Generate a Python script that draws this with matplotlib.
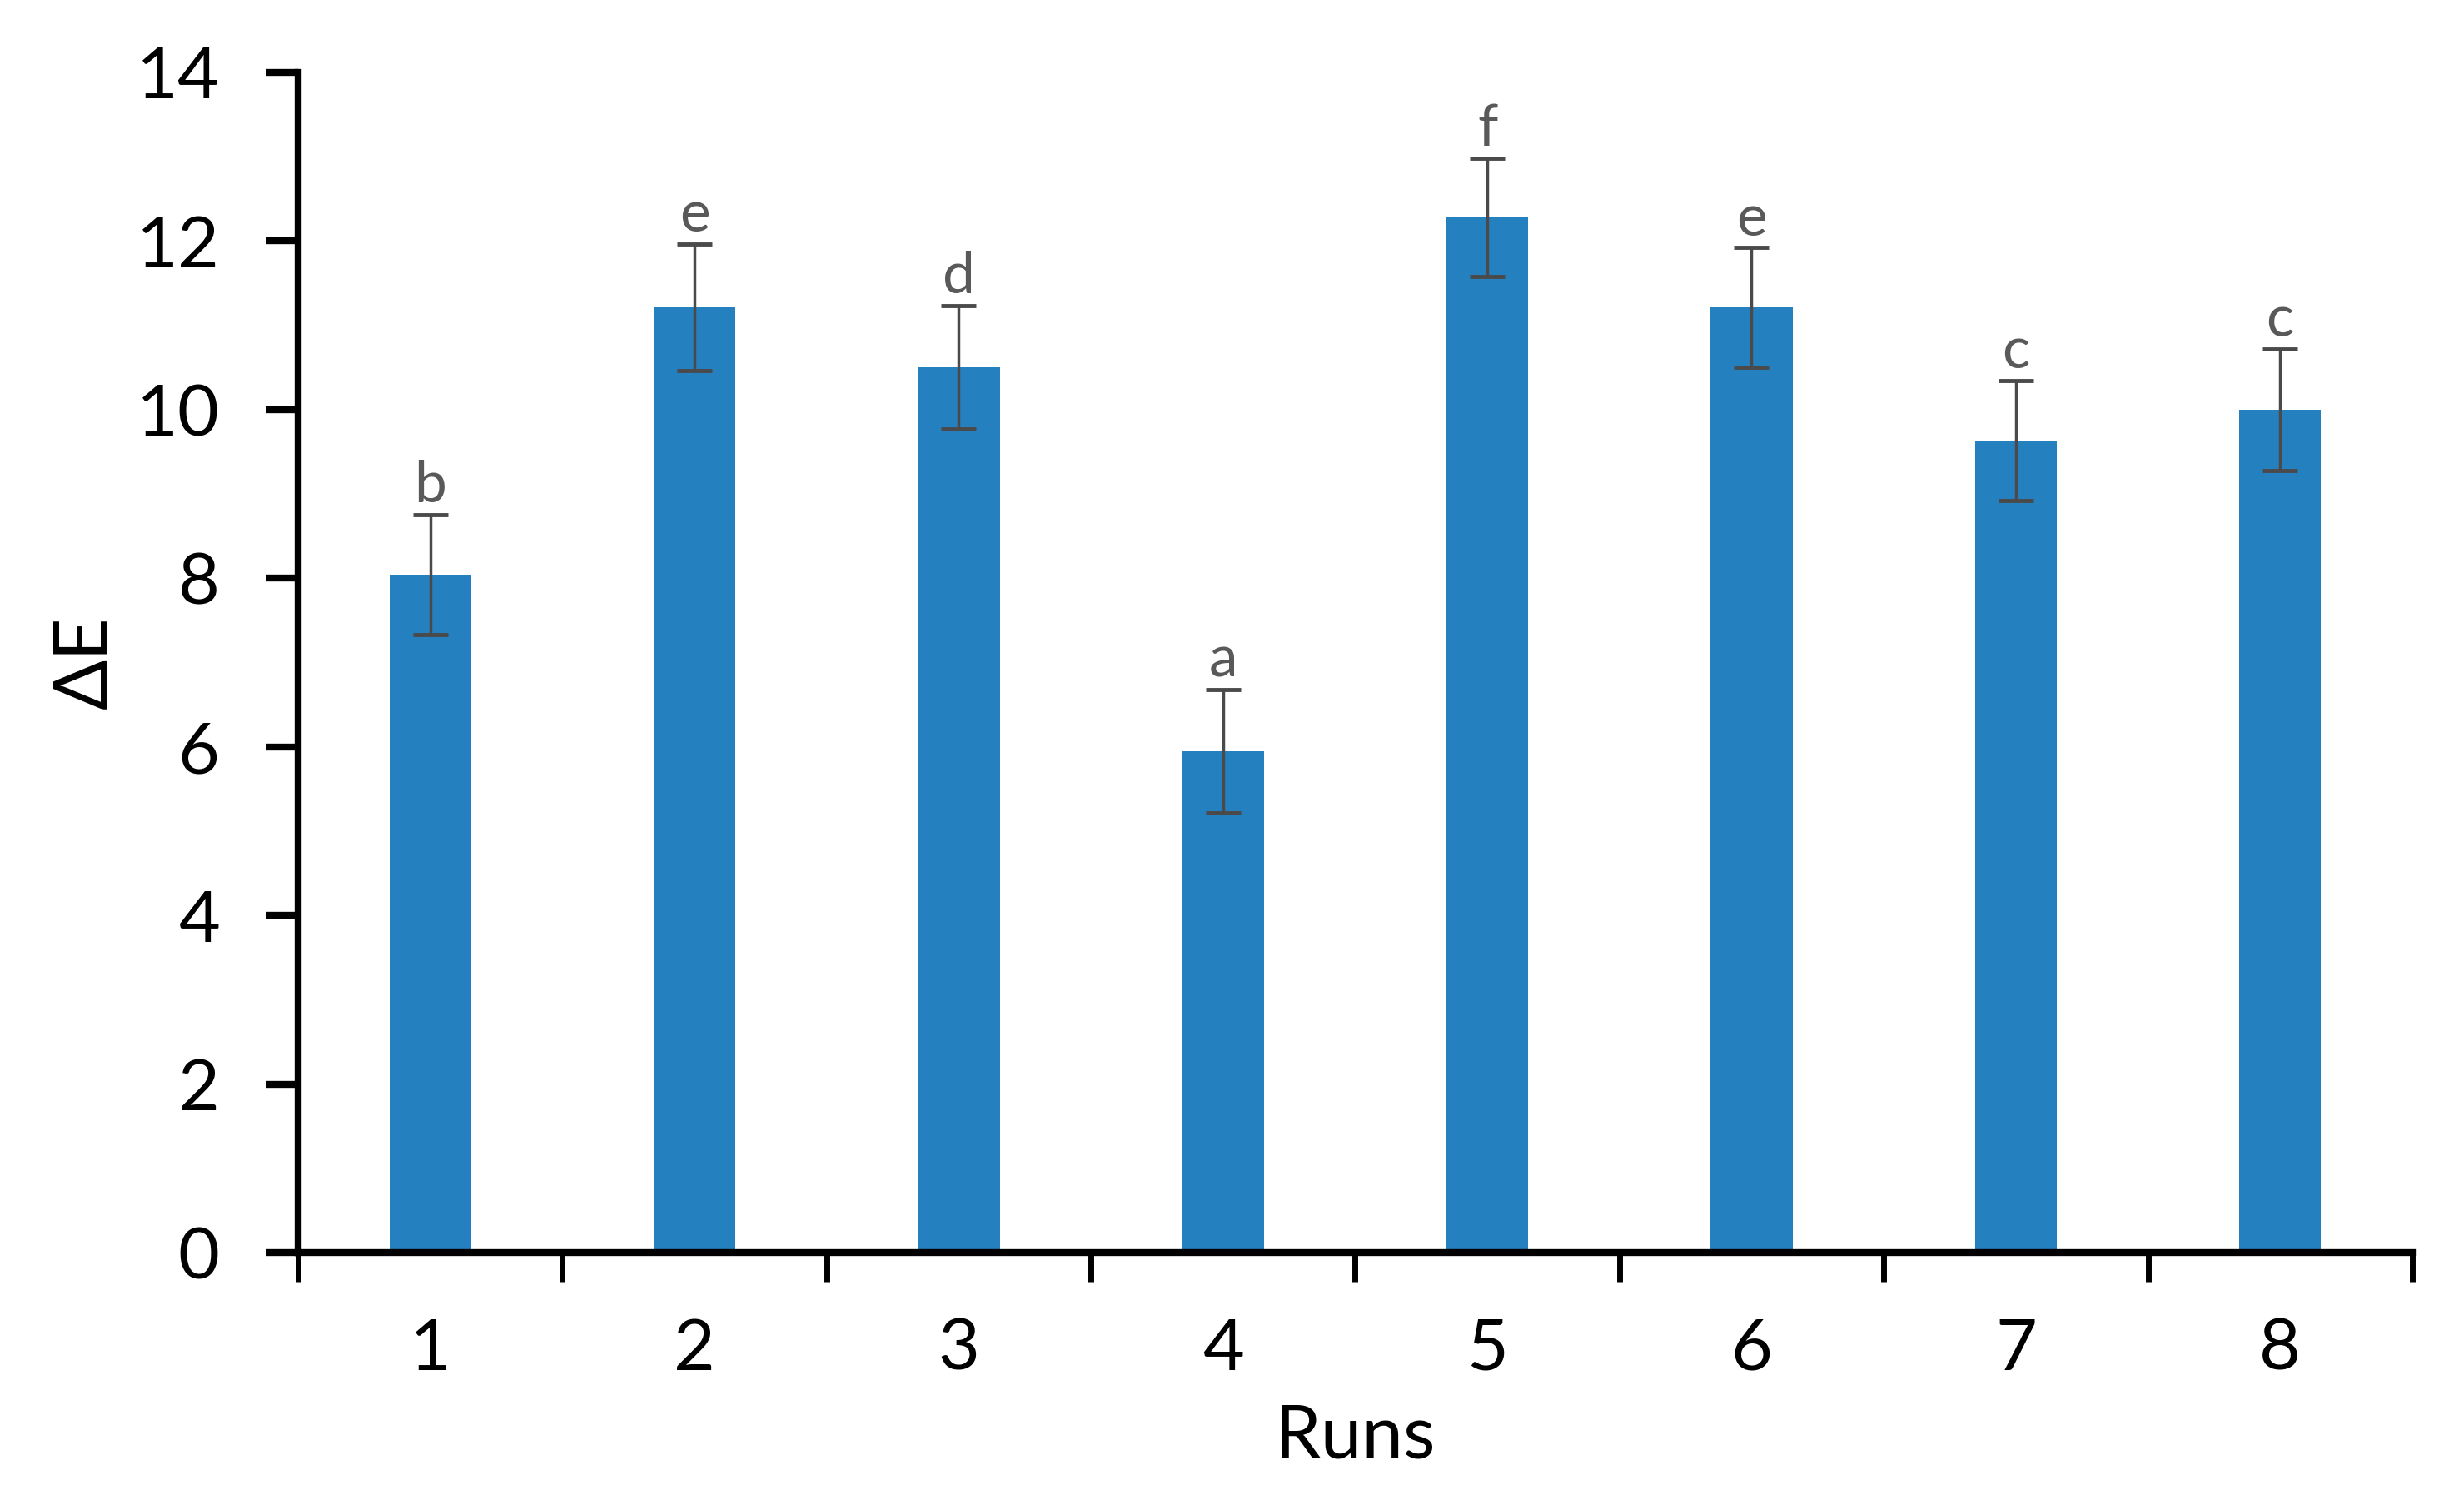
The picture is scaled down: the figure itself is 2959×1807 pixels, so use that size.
import matplotlib
matplotlib.use("Agg")
import matplotlib.pyplot as plt
from matplotlib.ticker import FixedLocator

runs = ["1", "2", "3", "4", "5", "6", "7", "8"]
delta_e = [8.04, 11.21, 10.50, 5.95, 12.28, 11.21, 9.63, 10.00]
errors = [0.71, 0.75, 0.73, 0.73, 0.70, 0.71, 0.71, 0.72]
letters = ["b", "e", "d", "a", "f", "e", "c", "c"]

plt.rcParams['font.family'] = ['Lato', 'DejaVu Sans']

W, H, DPI = 2959, 1807, 100
fig = plt.figure(figsize=(W / DPI, H / DPI), dpi=DPI)
ax = fig.add_axes([0.121, 0.1677, 0.858, 0.7843])

x = list(range(1, len(runs) + 1))
ax.bar(x, delta_e, width=0.31, color='#2580bf', zorder=2)
ax.errorbar(x, delta_e, yerr=errors, fmt='none', ecolor='#4a4a4a',
            elinewidth=2.5, capsize=15, capthick=3.5, zorder=3)

for xi, v, e, lab in zip(x, delta_e, errors, letters):
    ax.annotate(lab, (xi, v + e), xytext=(0, 2), textcoords='offset points',
                ha='center', va='bottom', fontsize=50, color='#595959')

ax.set_xlim(0.5, len(runs) + 0.5)
ax.set_ylim(0, 14)
ax.set_yticks(range(0, 15, 2))
ax.set_xticks(x)
ax.set_xticklabels(runs)
ax.xaxis.set_minor_locator(FixedLocator([i + 0.5 for i in range(0, len(runs) + 1)]))

for s in ['top', 'right']:
    ax.spines[s].set_visible(False)
for s in ['left', 'bottom']:
    ax.spines[s].set_linewidth(6)
    ax.spines[s].set_color('black')

ax.tick_params(axis='y', which='major', length=28, width=6, direction='out',
               labelsize=62, pad=40, colors='black')
ax.tick_params(axis='x', which='major', length=0, labelsize=62, pad=56)
ax.tick_params(axis='x', which='minor', length=25, width=5, direction='out')

ax.set_xlabel('Runs', fontsize=64, labelpad=18)
ax.set_ylabel('ΔE', fontsize=64, labelpad=14)

fig.savefig('out.png', dpi=DPI, facecolor='white')
